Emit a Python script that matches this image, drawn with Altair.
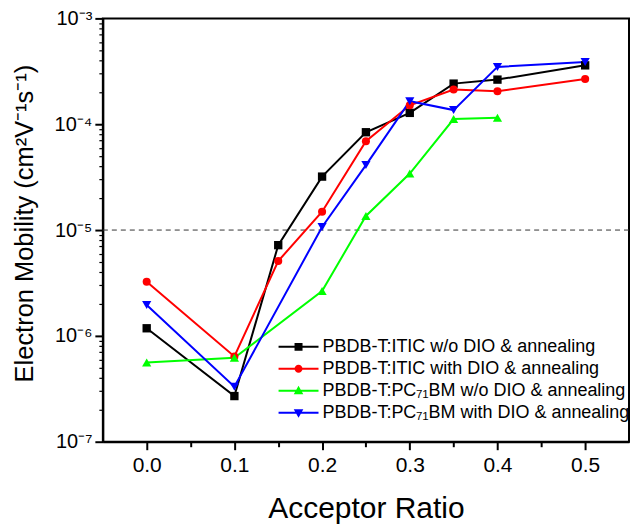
import altair as alt
import pandas as pd

FONT = "Liberation Sans"

series = [
    "PBDB-T:ITIC w/o DIO & annealing",
    "PBDB-T:ITIC with DIO & annealing",
    "PBDB-T:PC\u2087\u2081BM w/o DIO & annealing",
    "PBDB-T:PC\u2087\u2081BM with DIO & annealing",
]
colors = ["#000000", "#ff0000", "#00ff00", "#0000ff"]

x_black = [0.0, 0.1, 0.15, 0.2, 0.25, 0.3, 0.35, 0.4, 0.5]
y_black = [1.18e-6, 2.7e-7, 7.2e-6, 3.2e-5, 8.4e-5, 1.28e-4, 2.42e-4, 2.64e-4, 3.6e-4]
x_red = [0.0, 0.1, 0.15, 0.2, 0.25, 0.3, 0.35, 0.4, 0.5]
y_red = [3.25e-6, 6.4e-7, 5.1e-6, 1.49e-5, 6.9e-5, 1.51e-4, 2.13e-4, 2.05e-4, 2.67e-4]
x_green = [0.0, 0.1, 0.2, 0.25, 0.3, 0.35, 0.4]
y_green = [5.6e-7, 6.2e-7, 2.65e-6, 1.36e-5, 3.42e-5, 1.12e-4, 1.15e-4]
x_blue = [0.0, 0.1, 0.2, 0.25, 0.3, 0.35, 0.4, 0.5]
y_blue = [1.96e-6, 3.31e-7, 1.07e-5, 4.11e-5, 1.65e-4, 1.36e-4, 3.48e-4, 3.88e-4]

threshold = [1e-5]

x_ticks = [0.0, 0.05, 0.1, 0.15, 0.2, 0.25, 0.3, 0.35, 0.4, 0.45, 0.5]
y_ticks = [m * 10.0 ** k for k in range(-7, -3) for m in range(1, 10)] + [1e-3]

marker_shapes = ["square", "circle", "triangle-up", "triangle-down"]
marker_sizes = [70, 65, 85, 85]

# legend symbols: line segment + marker (custom SVG paths, unit ~ 4px)
LINE = "M-5,-0.25H5V0.25H-5Z "
legend_paths = [
    LINE + "M-1,-1H1V1H-1Z",
    LINE + "M1,0A1,1 0 1,1 -1,0A1,1 0 1,1 1,0Z",
    LINE + "M0,-1.25L1.2,0.85H-1.2Z",
    LINE + "M0,1.25L-1.2,-0.85H1.2Z",
]

xs = [x_black, x_red, x_green, x_blue]
ys = [y_black, y_red, y_green, y_blue]
rows = []
for name, xv, yv in zip(series, xs, ys):
    for a, b in zip(xv, yv):
        rows.append({"series": name, "x": a, "y": b})
df = pd.DataFrame(rows)

LOG = "(log(datum.value)/LN10)"
y_major = f"abs({LOG} - round({LOG})) < 0.01"
y_sup = (
    f"(round({LOG}) == -7 ? '\u207b\u2077' : round({LOG}) == -6 ? '\u207b\u2076' : "
    f"round({LOG}) == -5 ? '\u207b\u2075' : round({LOG}) == -4 ? '\u207b\u2074' : '\u207b\u00b3')"
)
x_major = "abs(datum.value*10 - round(datum.value*10)) < 0.01"

x_scale = alt.Scale(domain=[-0.05, 0.55], nice=False, zero=False)
y_scale = alt.Scale(type="log", domain=[1e-7, 1e-3], nice=False)
c_scale = alt.Scale(domain=series, range=colors)

x_axis = alt.Axis(
    title="Acceptor Ratio",
    values=x_ticks,
    labelExpr=f"{x_major} ? format(datum.value, '.1f') : ''",
    tickSize={"condition": {"test": f"!({x_major})", "value": 5}, "value": 8},
    grid=False,
    labelFontSize=21,
    titleFontSize=30,
    titleFontWeight="normal",
    labelPadding=5,
    titlePadding=18,
    labelOverlap=False,
    labelFlush=False,
)
y_axis = alt.Axis(
    title="Electron Mobility (cm\u00b2V\u207b\u00b9s\u207b\u00b9)",
    values=y_ticks,
    labelExpr=f"{y_major} ? '10' + {y_sup} : ''",
    tickSize={"condition": {"test": f"!({y_major})", "value": 4}, "value": 8},
    tickWidth={"condition": {"test": f"!({y_major})", "value": 1.2}, "value": 2},
    grid=False,
    labelFontSize=20,
    titleFontSize=25.5,
    titleFontWeight="normal",
    labelPadding=3,
    titlePadding=17,
    titleY=205,
    labelOverlap=False,
    labelFlush=False,
)

X = alt.X("x:Q", scale=x_scale, axis=x_axis)
Y = alt.Y("y:Q", scale=y_scale, axis=y_axis)

base = alt.Chart(df)

rule = alt.Chart(pd.DataFrame({"y": threshold})).mark_rule(
    color="#333333", strokeDash=[5, 4], strokeWidth=1
).encode(y=Y)

line_layers = []
point_layers = []
for name, col, shp, sz in zip(series, colors, marker_shapes, marker_sizes):
    sub = base.transform_filter(alt.datum.series == name)
    line_layers.append(
        sub.mark_line(strokeWidth=2, color=col).encode(x=X, y=Y, order=alt.Order("x:Q"))
    )
    point_layers.append(
        sub.mark_point(filled=True, opacity=1, shape=shp, size=sz, color=col).encode(x=X, y=Y)
    )

leg = alt.Legend(
    orient="none",
    legendX=187,
    legendY=320,
    title=None,
    labelFont=FONT,
    labelFontSize=18,
    labelOffset=15,
    labelLimit=0,
    rowPadding=4,
    symbolSize=64,
)
legend_layer = (
    base.transform_filter("datum.x < -1")
    .mark_point(filled=True, opacity=1, size=64)
    .encode(
        x=X,
        y=Y,
        color=alt.Color("series:N", scale=c_scale, legend=leg),
        shape=alt.Shape("series:N", scale=alt.Scale(domain=series, range=legend_paths), legend=leg),
    )
)

chart = (
    alt.layer(rule, *line_layers, *point_layers, legend_layer)
    .properties(width=527, height=424, padding={"left": 4, "top": 0, "right": 0, "bottom": 0})
    .configure(font=FONT)
    .configure_view(stroke="#000000", strokeWidth=2)
    .configure_axis(
        domainColor="#000000",
        domainWidth=2,
        tickColor="#000000",
        tickWidth=2,
        labelColor="#000000",
        titleColor="#000000",
        labelFont=FONT,
        titleFont=FONT,
    )
)

chart.save("out.html", embed_options={"renderer": "svg", "actions": False})
